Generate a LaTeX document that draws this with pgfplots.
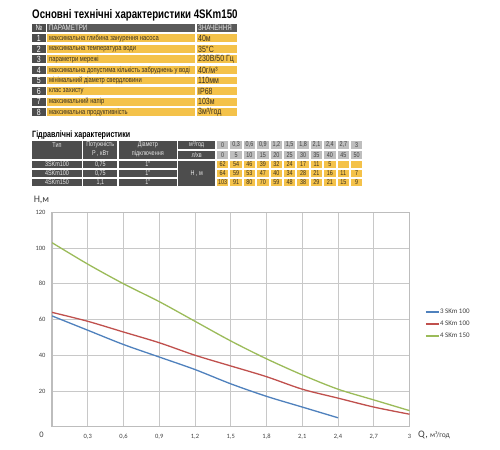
\documentclass[border=0pt]{standalone}
\usepackage{fontspec}
\setmainfont{Liberation Sans}
\newfontfamily\cond[FakeStretch=0.78]{Liberation Sans}
\newfontfamily\carl{Carlito}
\usepackage{pgfplots}
\pgfplotsset{compat=1.18}
\definecolor{yel}{HTML}{F4C24A}
\definecolor{dk}{HTML}{4D4D4D}
\definecolor{dkh}{HTML}{5A5A5A}
\definecolor{lg}{HTML}{BEBEBE}
\definecolor{ytext}{HTML}{3A3020}
\definecolor{wtext}{HTML}{E6E6E6}
\definecolor{gridgray}{HTML}{C8C8C8}
\definecolor{axgray}{HTML}{BDBDBD}
\definecolor{tickgray}{HTML}{404040}
\definecolor{cblue}{HTML}{4F81BD}
\definecolor{cred}{HTML}{C0504D}
\definecolor{cgreen}{HTML}{9BBB59}
\newcommand\fs[1]{\fontsize{#1}{#1}\selectfont}
\begin{document}
\begin{tikzpicture}
\path[use as bounding box, fill=white] (0,0) rectangle (500bp,-450bp);
\begin{scope}[x=1bp,y=-1bp]
% ---------- title 1
\node[anchor=west, inner sep=0, text=black] at (32,15.7) {\cond\bfseries\fs{12.5}Основні технічні характеристики 4SKm150};
% header row
\fill[dk] (31.7,24) rectangle (46,32);
\node[inner sep=0,text=white] at (38.85,28) {\cond\fs{8}№};
\fill[dkh] (47.3,24) rectangle (195,32);
\node[anchor=west,inner sep=0,text=wtext] at (49,28) {\cond\fs{8}ПАРАМЕТРИ};
\fill[dkh] (196.7,24) rectangle (237.3,32);
\node[anchor=west,inner sep=0,text=wtext] at (198,28) {\cond\fs{8}ЗНАЧЕННЯ};
\foreach \i/\p/\v in {1/{максимальна глибина занурення насоса}/{40м},
 2/{максимальна температура води}/{35°C},
 3/{параметри мережі}/{230В/50 Гц},
 4/{максимальна допустима кількість забруднень у воді}/{40г/м³},
 5/{мінімальний діаметр свердловини}/{110мм},
 6/{клас захисту}/{IP68},
 7/{максимальний напір}/{103м},
 8/{максимальна продуктивність}/{3м³/год}}{
 \pgfmathsetmacro\t{34.3+(\i-1)*10.57}
 \pgfmathsetmacro\b{\t+7.9}
 \pgfmathsetmacro\m{\t+4.1}
 \fill[dk] (31.7,\t) rectangle (46,\b);
 \node[inner sep=0,text=white] at (38.85,\m) {\cond\fs{9}\i};
 \fill[yel] (47.3,\t) rectangle (195,\b);
 \node[anchor=west,inner sep=0,text=ytext] at (49,\m) {\cond\fs{7.5}\p};
 \fill[yel] (196.7,\t) rectangle (237.3,\b);
 \node[anchor=west,inner sep=0,text=ytext] at (198,\m) {\cond\fs{9}\v};
}
% ---------- title 2
\node[anchor=west, inner sep=0, text=black] at (32,135) {\cond\bfseries\fs{9.2}Гідравлічні характеристики};
% merged header cells
\fill[dk] (32.3,141) rectangle (81.7,158.6);
\node[inner sep=0,text=wtext] at (57,145) {\cond\fs{7}Тип};
\fill[dk] (83.3,141) rectangle (117.3,158.6);
\node[inner sep=0,text=wtext] at (100.3,145) {\cond\fs{7}Потужність};
\node[inner sep=0,text=wtext] at (100.3,154) {\cond\fs{7}P , кВт};
\fill[dk] (119,141) rectangle (176.7,158.6);
\node[inner sep=0,text=wtext] at (147.85,145) {\cond\fs{7}Діаметр};
\node[inner sep=0,text=wtext] at (147.85,153.5) {\cond\fs{7}підключення};
\fill[dk] (178.3,141) rectangle (215,149);
\node[inner sep=0,text=wtext] at (196.65,145) {\cond\fs{7}м³/год};
\fill[dk] (178.3,150.8) rectangle (215,158.6);
\node[inner sep=0,text=wtext] at (196.65,154.7) {\cond\fs{7}л/хв};
\fill[dk] (178.3,160.5) rectangle (215,186);
\node[inner sep=0,text=wtext] at (196.65,173.3) {\cond\fs{7}Н , м};
\foreach \r/\a/\p in {0/3SKm100/{0,75}, 1/4SKm100/{0,75}, 2/4SKm150/{1,1}}{
 \pgfmathsetmacro\t{160.5+\r*9}
 \pgfmathsetmacro\b{\t+7.5}
 \pgfmathsetmacro\m{\t+3.75}
 \fill[dk] (32.3,\t) rectangle (81.7,\b);
 \node[inner sep=0,text=wtext] at (57,\m) {\cond\fs{7}\a};
 \fill[dk] (83.3,\t) rectangle (117.3,\b);
 \node[inner sep=0,text=wtext] at (100.3,\m) {\cond\fs{7}\p};
 \fill[dk] (119,\t) rectangle (176.7,\b);
 \node[inner sep=0,text=wtext] at (147.85,\m) {\cond\fs{7}1"};
}
\foreach \c/\q/\l/\u/\v/\w in {0/0/0/62/64/103, 1/{0,3}/5/54/59/91, 2/{0,6}/10/46/53/80,
 3/{0,9}/15/39/47/70, 4/{1,2}/20/32/40/59, 5/{1,5}/25/24/34/48, 6/{1,8}/30/17/28/38,
 7/{2,1}/35/11/21/29, 8/{2,4}/40/5/16/21, 9/{2,7}/45/{}/11/15, 10/3/50/{}/7/9}{
 \pgfmathsetmacro\L{217+13.4*\c}
 \pgfmathsetmacro\R{\L+11.4}
 \pgfmathsetmacro\C{\L+5.7}
 \fill[lg] (\L,141) rectangle (\R,149);
 \node[inner sep=0,text=tickgray] at (\C,145) {\cond\fs{7}\q};
 \fill[lg] (\L,150.8) rectangle (\R,158.6);
 \node[inner sep=0,text=tickgray] at (\C,154.7) {\cond\fs{7}\l};
 \fill[yel] (\L,160.5) rectangle (\R,168);
 \node[inner sep=0,text=ytext] at (\C,164.25) {\cond\fs{7}\u};
 \fill[yel] (\L,169.5) rectangle (\R,177);
 \node[inner sep=0,text=ytext] at (\C,173.25) {\cond\fs{7}\v};
 \fill[yel] (\L,178.5) rectangle (\R,186);
 \node[inner sep=0,text=ytext] at (\C,182.25) {\cond\fs{7}\w};
}
% ---------- chart labels
\node[inner sep=0,text=tickgray] at (41.5,200) {\carl\fs{10}H,м};
\node[inner sep=0,text=tickgray] at (41.5,435) {\carl\fs{8.5}0};
\node[anchor=west,inner sep=0,text=tickgray] at (418,435) {\carl\fs{10}Q,\ \fs{7.5}м³/год};
\end{scope}
\begin{axis}[at={(52bp,-426.7bp)}, anchor=south west, scale only axis,
 width=357.5bp, height=214.4bp,
 xmin=0, xmax=3, ymin=0, ymax=120,
 xtick={0.3,0.6,0.9,1.2,1.5,1.8,2.1,2.4,2.7,3},
 ytick={20,40,60,80,100,120},
 grid=major, major grid style={draw=gridgray, line width=0.9bp},
 axis line style={draw=axgray, line width=1.2bp},
 major tick length=0pt,
 ticklabel style={font=\carl\fs{6.5}, text=tickgray},
 /pgf/number format/assume math mode=true,
 /pgf/number format/use comma,
 /pgf/number format/1000 sep={},
 xticklabel style={yshift=-4bp},
 yticklabel style={xshift=-3bp},
 legend style={at={(1.035,0.479)}, anchor=west, draw=none, fill=none,
   font=\carl\fs{7}, text=tickgray, row sep=4.5bp,
   nodes={inner sep=0.5bp, text height=5bp, text depth=1.5bp}},
 legend cell align=left,
 legend image code/.code={\draw[#1] (0bp,0bp) -- (13bp,0bp);},
 every axis plot/.append style={line width=1.3bp, smooth}]
\addplot[color=cblue] coordinates {(0,62)(0.3,54)(0.6,46)(0.9,39)(1.2,32)(1.5,24)(1.8,17)(2.1,11)(2.4,5)};
\addplot[color=cred] coordinates {(0,64)(0.3,59)(0.6,53)(0.9,47)(1.2,40)(1.5,34)(1.8,28)(2.1,21)(2.4,16)(2.7,11)(3,7)};
\addplot[color=cgreen] coordinates {(0,103)(0.3,91)(0.6,80)(0.9,70)(1.2,59)(1.5,48)(1.8,38)(2.1,29)(2.4,21)(2.7,15)(3,9)};
\legend{3 SKm 100, 4 SKm 100, 4 SKm 150}
\end{axis}
\end{tikzpicture}
\end{document}
